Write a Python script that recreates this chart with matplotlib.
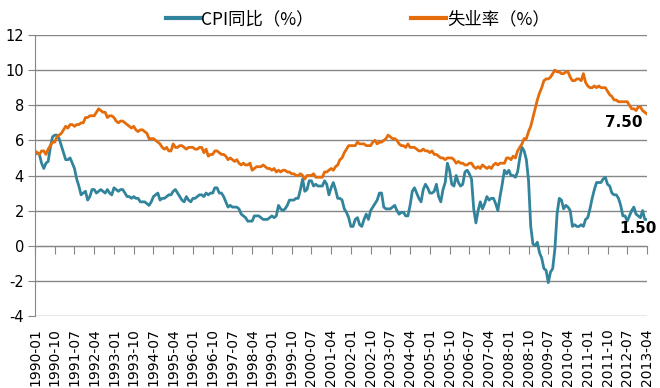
import numpy as np
import matplotlib
matplotlib.use("Agg")
import matplotlib.pyplot as plt
import pandas as pd

# monthly values, 1990-01 .. 2013-04
cpi = [
    5.2, 5.3, 5.2, 4.7, 4.4, 4.7, 4.8, 5.6, 6.2, 6.3, 6.3, 6.1,   # 1990
    5.7, 5.3, 4.9, 4.9, 5.0, 4.7, 4.4, 3.8, 3.4, 2.9, 3.0, 3.1,   # 1991
    2.6, 2.8, 3.2, 3.2, 3.0, 3.1, 3.2, 3.1, 3.0, 3.2, 3.0, 2.9,   # 1992
    3.3, 3.2, 3.1, 3.2, 3.2, 3.0, 2.8, 2.8, 2.7, 2.8, 2.7, 2.7,   # 1993
    2.5, 2.5, 2.5, 2.4, 2.3, 2.5, 2.8, 2.9, 3.0, 2.6, 2.7, 2.7,   # 1994
    2.8, 2.9, 2.9, 3.1, 3.2, 3.0, 2.8, 2.6, 2.5, 2.8, 2.6, 2.5,   # 1995
    2.7, 2.7, 2.8, 2.9, 2.9, 2.8, 3.0, 2.9, 3.0, 3.0, 3.3, 3.3,   # 1996
    3.0, 3.0, 2.8, 2.5, 2.2, 2.3, 2.2, 2.2, 2.2, 2.1, 1.8, 1.7,   # 1997
    1.6, 1.4, 1.4, 1.4, 1.7, 1.7, 1.7, 1.6, 1.5, 1.5, 1.5, 1.6,   # 1998
    1.7, 1.6, 1.7, 2.3, 2.1, 2.0, 2.1, 2.3, 2.6, 2.6, 2.6, 2.7,   # 1999
    2.7, 3.2, 3.8, 3.1, 3.2, 3.7, 3.7, 3.4, 3.5, 3.4, 3.4, 3.4,   # 2000
    3.7, 3.5, 2.9, 3.3, 3.6, 3.2, 2.7, 2.7, 2.6, 2.1, 1.9, 1.6,   # 2001
    1.1, 1.1, 1.5, 1.6, 1.2, 1.1, 1.5, 1.8, 1.5, 2.0, 2.2, 2.4,   # 2002
    2.6, 3.0, 3.0, 2.2, 2.1, 2.1, 2.1, 2.2, 2.3, 2.0, 1.8, 1.9,   # 2003
    1.9, 1.7, 1.7, 2.3, 3.1, 3.3, 3.0, 2.7, 2.5, 3.2, 3.5, 3.3,   # 2004
    3.0, 3.0, 3.1, 3.5, 2.8, 2.5, 3.2, 3.6, 4.7, 4.3, 3.5, 3.4,   # 2005
    4.0, 3.6, 3.4, 3.5, 4.2, 4.3, 4.1, 3.8, 2.1, 1.3, 2.0, 2.5,   # 2006
    2.1, 2.4, 2.8, 2.6, 2.7, 2.7, 2.4, 2.0, 2.8, 3.5, 4.3, 4.1,   # 2007
    4.3, 4.0, 4.0, 3.9, 4.2, 5.0, 5.6, 5.4, 4.9, 3.7, 1.1, 0.1,   # 2008
    0.0, 0.2, -0.4, -0.7, -1.3, -1.4, -2.1, -1.5, -1.3, -0.2, 1.8, 2.7,  # 2009
    2.6, 2.1, 2.3, 2.2, 2.0, 1.1, 1.2, 1.1, 1.1, 1.2, 1.1, 1.5,   # 2010
    1.6, 2.1, 2.7, 3.2, 3.6, 3.6, 3.6, 3.8, 3.9, 3.5, 3.4, 3.0,   # 2011
    2.9, 2.9, 2.7, 2.3, 1.7, 1.7, 1.4, 1.7, 2.0, 2.2, 1.8, 1.7,   # 2012
    1.6, 2.0, 1.5, 1.5,                                           # 2013
]

unemp = [
    5.4, 5.3, 5.2, 5.4, 5.4, 5.2, 5.5, 5.7, 5.9, 5.9, 6.2, 6.3,
    6.4, 6.6, 6.8, 6.7, 6.9, 6.9, 6.8, 6.9, 6.9, 7.0, 7.0, 7.3,
    7.3, 7.4, 7.4, 7.4, 7.6, 7.8, 7.7, 7.6, 7.6, 7.3, 7.4, 7.4,
    7.3, 7.1, 7.0, 7.1, 7.1, 7.0, 6.9, 6.8, 6.7, 6.8, 6.6, 6.5,
    6.6, 6.6, 6.5, 6.4, 6.1, 6.1, 6.1, 6.0, 5.9, 5.8, 5.6, 5.5,
    5.6, 5.4, 5.4, 5.8, 5.6, 5.6, 5.7, 5.7, 5.6, 5.5, 5.6, 5.6,
    5.6, 5.5, 5.5, 5.6, 5.6, 5.3, 5.5, 5.1, 5.2, 5.2, 5.4, 5.4,
    5.3, 5.2, 5.2, 5.1, 4.9, 5.0, 4.9, 4.8, 4.9, 4.7, 4.6, 4.7,
    4.6, 4.6, 4.7, 4.3, 4.4, 4.5, 4.5, 4.5, 4.6, 4.5, 4.4, 4.4,
    4.3, 4.4, 4.2, 4.3, 4.2, 4.3, 4.3, 4.2, 4.2, 4.1, 4.1, 4.0,
    4.0, 4.1, 4.0, 3.8, 4.0, 4.0, 4.0, 4.1, 3.9, 3.9, 3.9, 3.9,
    4.2, 4.2, 4.3, 4.4, 4.3, 4.5, 4.6, 4.9, 5.0, 5.3, 5.5, 5.7,
    5.7, 5.7, 5.7, 5.9, 5.8, 5.8, 5.8, 5.7, 5.7, 5.7, 5.9, 6.0,
    5.8, 5.9, 5.9, 6.0, 6.1, 6.3, 6.2, 6.1, 6.1, 6.0, 5.8, 5.7,
    5.7, 5.6, 5.8, 5.6, 5.6, 5.6, 5.5, 5.4, 5.4, 5.5, 5.4, 5.4,
    5.3, 5.4, 5.2, 5.2, 5.1, 5.0, 5.0, 4.9, 5.0, 5.0, 5.0, 4.9,
    4.7, 4.8, 4.7, 4.7, 4.6, 4.6, 4.7, 4.7, 4.5, 4.4, 4.5, 4.4,
    4.6, 4.5, 4.4, 4.5, 4.4, 4.6, 4.7, 4.6, 4.7, 4.7, 4.7, 5.0,
    5.0, 4.9, 5.1, 5.0, 5.4, 5.6, 5.8, 6.1, 6.1, 6.5, 6.8, 7.3,
    7.8, 8.3, 8.7, 9.0, 9.4, 9.5, 9.5, 9.6, 9.8, 10.0, 9.9, 9.9,
    9.8, 9.8, 9.9, 9.9, 9.6, 9.4, 9.4, 9.5, 9.5, 9.4, 9.8, 9.3,
    9.1, 9.0, 9.0, 9.1, 9.0, 9.1, 9.0, 9.0, 9.0, 8.8, 8.6, 8.5,
    8.3, 8.3, 8.2, 8.2, 8.2, 8.2, 8.2, 8.0, 7.8, 7.8, 7.7, 7.9,
    7.9, 7.7, 7.6, 7.5,
]

months = pd.period_range("1990-01", "2013-04", freq="M").strftime("%Y-%m").tolist()

plt.rcParams['font.family'] = ['DejaVu Sans', 'Noto Sans CJK SC']
plt.rcParams['axes.unicode_minus'] = False

x = np.arange(len(months))
tick_idx = x[::9]

fig = plt.figure(figsize=(6.6, 3.88), dpi=100)
ax = fig.add_axes([35 / 660, 1 - 316 / 388, 612 / 660, 281 / 388])

ax.plot(x, cpi, color='#31849B', lw=2.0, label="CPI同比（%）", solid_joinstyle='round')
ax.plot(x, unemp, color='#E46C0A', lw=2.0, label="失业率（%）", solid_joinstyle='round')

ax.set_xlim(0, len(months) - 1)
ax.set_ylim(-4, 12)
ax.set_yticks(range(-4, 13, 2))
ax.grid(axis='y', color='#868686', lw=1)
ax.set_axisbelow(True)

for s in ['top', 'right', 'bottom']:
    ax.spines[s].set_visible(False)
ax.spines['left'].set_color('#868686')
ax.tick_params(axis='y', color='#868686', length=5, labelsize=10.5, pad=3)

ax.set_xticks(tick_idx)
ax.set_xticklabels([months[i] for i in tick_idx], rotation=90, fontsize=10)
ax.tick_params(axis='x', length=0, pad=9)

# tick marks on the zero line
sec = ax.secondary_xaxis(0.25)
sec.set_xticks(tick_idx)
sec.set_xticklabels([])
sec.tick_params(axis='x', color='#868686', length=6, direction='out')
sec.spines['bottom'].set_color('#868686')

ax.annotate("%.2f" % unemp[-1], (x[-1], unemp[-1]), xytext=(-3, -1),
            textcoords='offset points', ha='right', va='top',
            fontsize=11, fontweight='bold')
ax.annotate("%.2f" % cpi[-1], (x[-1], cpi[-1]), xytext=(7, -1),
            textcoords='offset points', ha='right', va='top',
            fontsize=11, fontweight='bold')

leg = fig.legend(loc='center', bbox_to_anchor=(0.542, 1 - 19 / 388), ncol=2,
                 frameon=False, handlelength=2.0, columnspacing=5.6,
                 handletextpad=0.05,
                 prop={'family': ['Noto Sans CJK SC'], 'size': 12.5, 'weight': 'medium'})
for h in leg.get_lines():
    h.set_linewidth(3)

fig.savefig("out.png", dpi=100)
